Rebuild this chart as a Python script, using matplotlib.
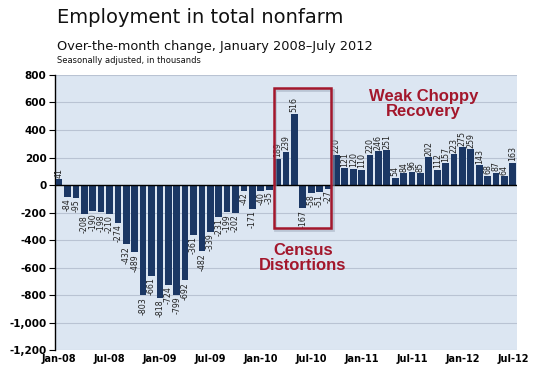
import matplotlib
matplotlib.use("Agg")
import matplotlib.pyplot as plt
from matplotlib.patches import Rectangle
import numpy as np

months = ["Jan-08","Feb-08","Mar-08","Apr-08","May-08","Jun-08","Jul-08","Aug-08","Sep-08","Oct-08","Nov-08","Dec-08",
          "Jan-09","Feb-09","Mar-09","Apr-09","May-09","Jun-09","Jul-09","Aug-09","Sep-09","Oct-09","Nov-09","Dec-09",
          "Jan-10","Feb-10","Mar-10","Apr-10","May-10","Jun-10","Jul-10","Aug-10","Sep-10","Oct-10","Nov-10","Dec-10",
          "Jan-11","Feb-11","Mar-11","Apr-11","May-11","Jun-11","Jul-11","Aug-11","Sep-11","Oct-11","Nov-11","Dec-11",
          "Jan-12","Feb-12","Mar-12","Apr-12","May-12","Jun-12","Jul-12"]
values = [41, -84, -95, -208, -190, -198, -210, -274, -432, -489, -803, -661,
          -818, -724, -799, -692, -361, -482, -339, -231, -199, -202, -42, -171,
          -40, -35, 189, 239, 516, -167, -58, -51, -27, 220, 121, 120,
          110, 220, 246, 251, 54, 84, 96, 85, 202, 112, 157, 223,
          275, 259, 143, 68, 87, 64, 163]
yticks = [800, 600, 400, 200, 0, -200, -400, -600, -800, -1000, -1200]

bar_color = "#1b3764"
red = "#a3172c"

fig = plt.figure(figsize=(5.38, 3.74), dpi=100)
ax = fig.add_axes([0.102, 0.064, 0.859, 0.7355])
ax.set_facecolor("#dce6f2")

x = np.arange(len(values))
ax.bar(x, values, width=0.8, color=bar_color, zorder=3)
ax.axhline(0, color="black", lw=1.0, zorder=4)

for xi, v in zip(x, values):
    if v >= 0:
        ax.text(xi, v + 12, f"{v}", rotation=90, ha="center", va="bottom",
                fontsize=5.7, color="#222222", zorder=5)
    else:
        ax.text(xi, v - 12, f"{v}", rotation=90, ha="center", va="top",
                fontsize=5.7, color="#222222", zorder=5)

ax.set_xlim(-0.5, len(values) - 0.5)
ax.set_ylim(-1200, 800)
ax.set_yticks(yticks)
ax.set_yticklabels([f"{t:,}" for t in yticks], fontsize=7.5, fontweight="bold")
ax.yaxis.grid(True, color="#b9c3d3", lw=0.8, zorder=0)
ax.set_axisbelow(True)

tick_idx = list(range(0, len(months), 6))
ax.set_xticks(tick_idx)
ax.set_xticklabels([months[i] for i in tick_idx], fontsize=7, fontweight="bold")
ax.tick_params(axis="x", length=0, pad=3)
ax.tick_params(axis="y", length=4, width=0.8, direction="out", pad=2)

for s in ["top", "right", "bottom"]:
    ax.spines[s].set_visible(False)
ax.spines["left"].set_color("black")
ax.spines["left"].set_linewidth(1.0)

# Census box
shadow = Rectangle((25.75, -330), 6.8, 1020, fill=False, edgecolor="#9aa6b8", lw=2, alpha=0.5, zorder=5)
ax.add_patch(shadow)
rect = Rectangle((25.6, -313), 6.8, 1018, fill=False, edgecolor=red, lw=1.8, zorder=6)
ax.add_patch(rect)

ax.text(29.0, -530, "Census\nDistortions", color=red, fontsize=12, fontweight="bold",
        ha="center", va="center", family="Liberation Sans", linespacing=1.0, zorder=6)
ax.text(43.4, 590, "Weak Choppy\nRecovery", color=red, fontsize=12, fontweight="bold",
        ha="center", va="center", family="Liberation Sans", linespacing=1.0, zorder=6)

fig.text(0.106, 0.952, "Employment in total nonfarm", fontsize=14, ha="left", va="center", color="#111111")
fig.text(0.106, 0.876, "Over-the-month change, January 2008\u2013July 2012", fontsize=9.3, ha="left", va="center", color="#111111")
fig.text(0.106, 0.837, "Seasonally adjusted, in thousands", fontsize=6, ha="left", va="center", color="#111111")

fig.savefig("out.png", dpi=100)
